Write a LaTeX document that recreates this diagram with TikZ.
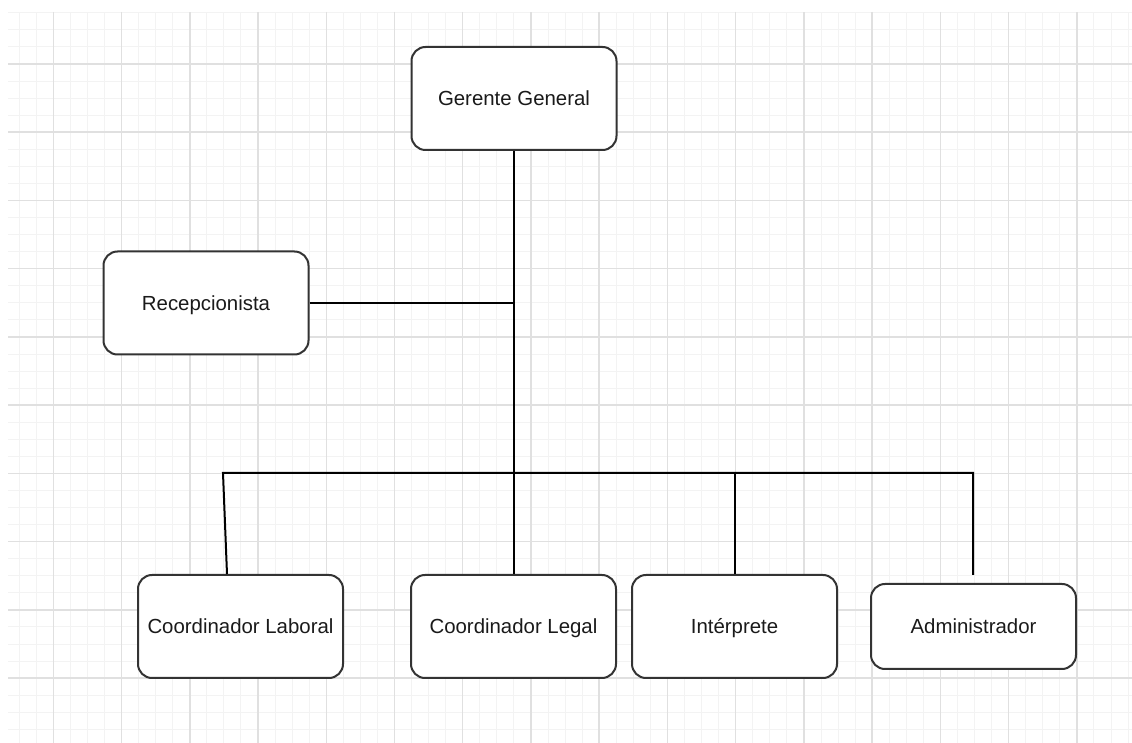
\documentclass[tikz,border=0pt]{standalone}
\usepackage{fontspec}
\setmainfont{Liberation Sans}
\usepackage{tikz}
\usetikzlibrary{positioning}
\definecolor{gridmajor}{RGB}{224,224,224}
\definecolor{gridminor}{RGB}{243,243,243}
\definecolor{boxline}{RGB}{51,51,51}
\definecolor{boxtext}{RGB}{26,26,26}

\begin{document}
\begin{tikzpicture}[
                x=0.5pt, y=-0.5pt,
                role/.style = {
                    draw=boxline,
                    line width = 1pt,
                    rounded corners = 7pt,
                    fill=white,
                    text=boxtext,
                    minimum width = 102.5pt,
                    minimum height = #1,
                    inner sep = 0pt,
                    text height = 7.3pt,
                    text depth = 0pt,
                    font=\fontsize{10.2}{12}\selectfont
                },
                role/.default = 51.5pt,
                link/.style = {line width = 1pt, black},
                node distance = {33pt}
            ]
            \useasboundingbox (0,0) rectangle (1132,743);
            % 
            \begin{scope}
                \clip (8,12) rectangle (1132,743);
                \foreach \k in {-2,...,63}
                    \draw[gridminor, line width=0.5pt] ({53.3+17.06*\k},12) -- ({53.3+17.06*\k},743);
                \foreach \k in {-3,...,40}
                    \draw[gridminor, line width=0.5pt] (8,{64+17.06*\k}) -- (1132,{64+17.06*\k});
                \foreach \k in {0,...,16}
                    \draw[gridmajor, line width=0.75pt] ({53.3+68.24*\k},12) -- ({53.3+68.24*\k},743);
                \foreach \k in {0,...,10}
                    \draw[gridmajor, line width=0.75pt] (8,{64+68.24*\k}) -- (1132,{64+68.24*\k});
            \end{scope}
            % 
            \node[role] (gerente) at (514,98.5) {Gerente General};
            \node[role] (recep) at (206,303) {Recepcionista};
            % 
            \node[role] (legal) at (513.5,626.5) {Coordinador Legal};
            \node[role] (laboral) [left=of legal] {Coordinador Laboral};
            \node[role] (interp) [right=7pt of legal] {Intérprete};
            \node[role=42.5pt] (admin) [right=16pt of interp] {Administrador};
            % 
            \coordinate (busL) at (223,473);
            \coordinate (busR) at (973,473);
            \coordinate (adminTop) at ([yshift=4pt]admin.north);
            % 
            \draw[link] (gerente.south) -- (gerente.south |- legal.north);
            \draw[link] (recep.east) -- (recep.east -| gerente.south);
            \draw[link] ([xshift=-6.75pt]laboral.north) -- (busL) -- (busR) -- (busR |- adminTop);
            \draw[link] (interp.north) -- (interp.north |- busR);
            % 
        \end{tikzpicture}
\end{document}
